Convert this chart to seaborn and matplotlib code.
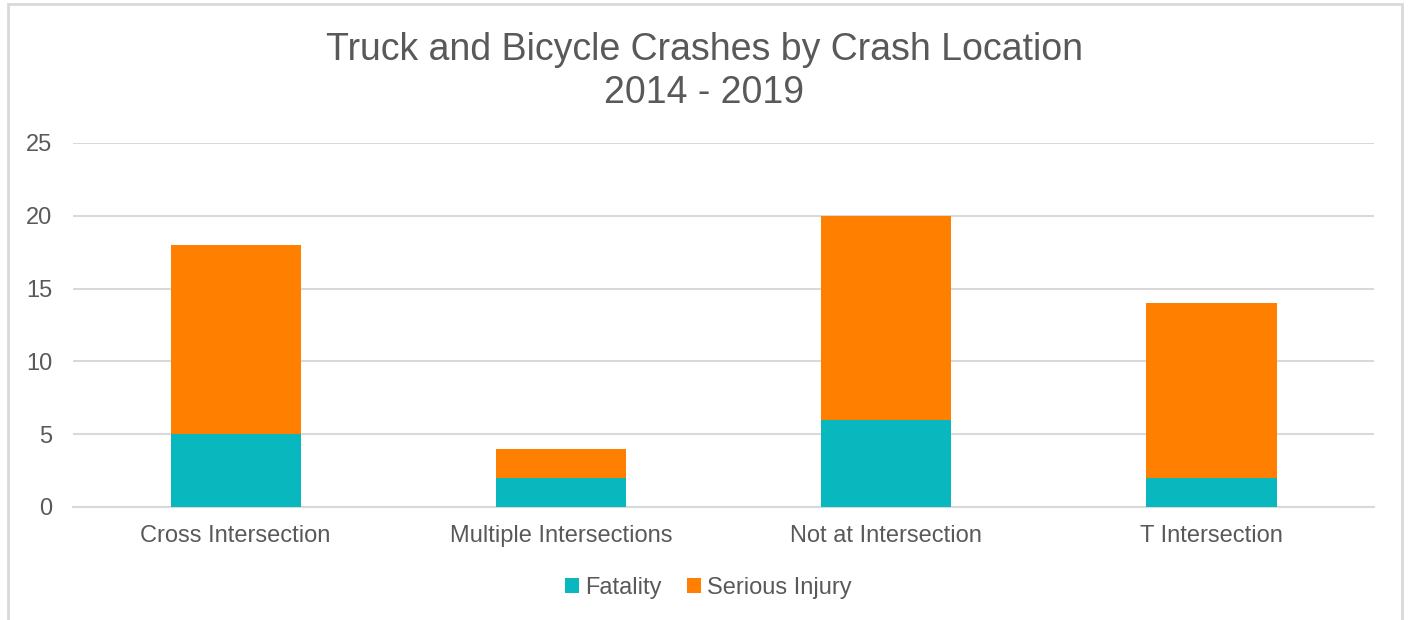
import pandas as pd
import seaborn as sns
import matplotlib.pyplot as plt
from matplotlib.patches import Rectangle

# Data
locations = ['Cross Intersection', 'Multiple Intersections', 'Not at Intersection', 'T Intersection']
fatality = [5, 2, 6, 2]
serious_injury = [13, 2, 14, 12]

teal = '#08B8BE'
orange = '#FF8000'
grey_text = '#595959'
grid_col = '#D9D9D9'

df = pd.DataFrame({'location': locations, 'Fatality': fatality, 'Serious Injury': serious_injury})
df['total'] = df['Fatality'] + df['Serious Injury']

sns.set_style('white')
plt.rcParams['font.family'] = ['Liberation Sans', 'DejaVu Sans']

fig = plt.figure(figsize=(14.08, 6.2), dpi=100)
ax = fig.add_axes([0.0518, 0.1823, 0.9242, 0.5871])

# stacked bars: total (orange) behind, fatality (teal) in front
sns.barplot(data=df, x='location', y='total', color=orange, width=0.4,
            saturation=1, ax=ax, label='Serious Injury', zorder=3, linewidth=0)
sns.barplot(data=df, x='location', y='Fatality', color=teal, width=0.4,
            saturation=1, ax=ax, label='Fatality', zorder=3, linewidth=0)
handles, labels = ax.get_legend_handles_labels()
if ax.legend_ is not None:
    ax.legend_.remove()

ax.set_ylim(0, 25)
ax.set_yticks([0, 5, 10, 15, 20, 25])
ax.set_xlim(-0.5, 3.5)
ax.grid(axis='y', color=grid_col, linewidth=1.5, zorder=0)
ax.set_axisbelow(True)
for s in ['top', 'right', 'left']:
    ax.spines[s].set_visible(False)
ax.spines['bottom'].set_color(grid_col)
ax.spines['bottom'].set_linewidth(1.5)
ax.set_xlabel('')
ax.set_ylabel('')
ax.tick_params(axis='both', length=0, labelsize=17, labelcolor=grey_text)
ax.tick_params(axis='x', pad=13)
ax.tick_params(axis='y', pad=15)

fig.suptitle('Truck and Bicycle Crashes by Crash Location\n2014 - 2019',
             y=0.948, fontsize=27, color=grey_text, linespacing=1.24)

order = [labels.index('Fatality'), labels.index('Serious Injury')]
fig.legend([handles[i] for i in order], [labels[i] for i in order],
           loc='center', bbox_to_anchor=(0.503, 0.052), ncol=2, frameon=False,
           fontsize=17, labelcolor=grey_text, handlelength=0.6, handleheight=0.6,
           handletextpad=0.25, columnspacing=1.1)

# outer chart border
fig.patches.append(Rectangle((8 / 1408, -0.05), 1394 / 1408, 1 - 4 / 620 + 0.05,
                             transform=fig.transFigure, fill=False,
                             edgecolor=grid_col, linewidth=2))

fig.savefig('out.png', dpi=100)
